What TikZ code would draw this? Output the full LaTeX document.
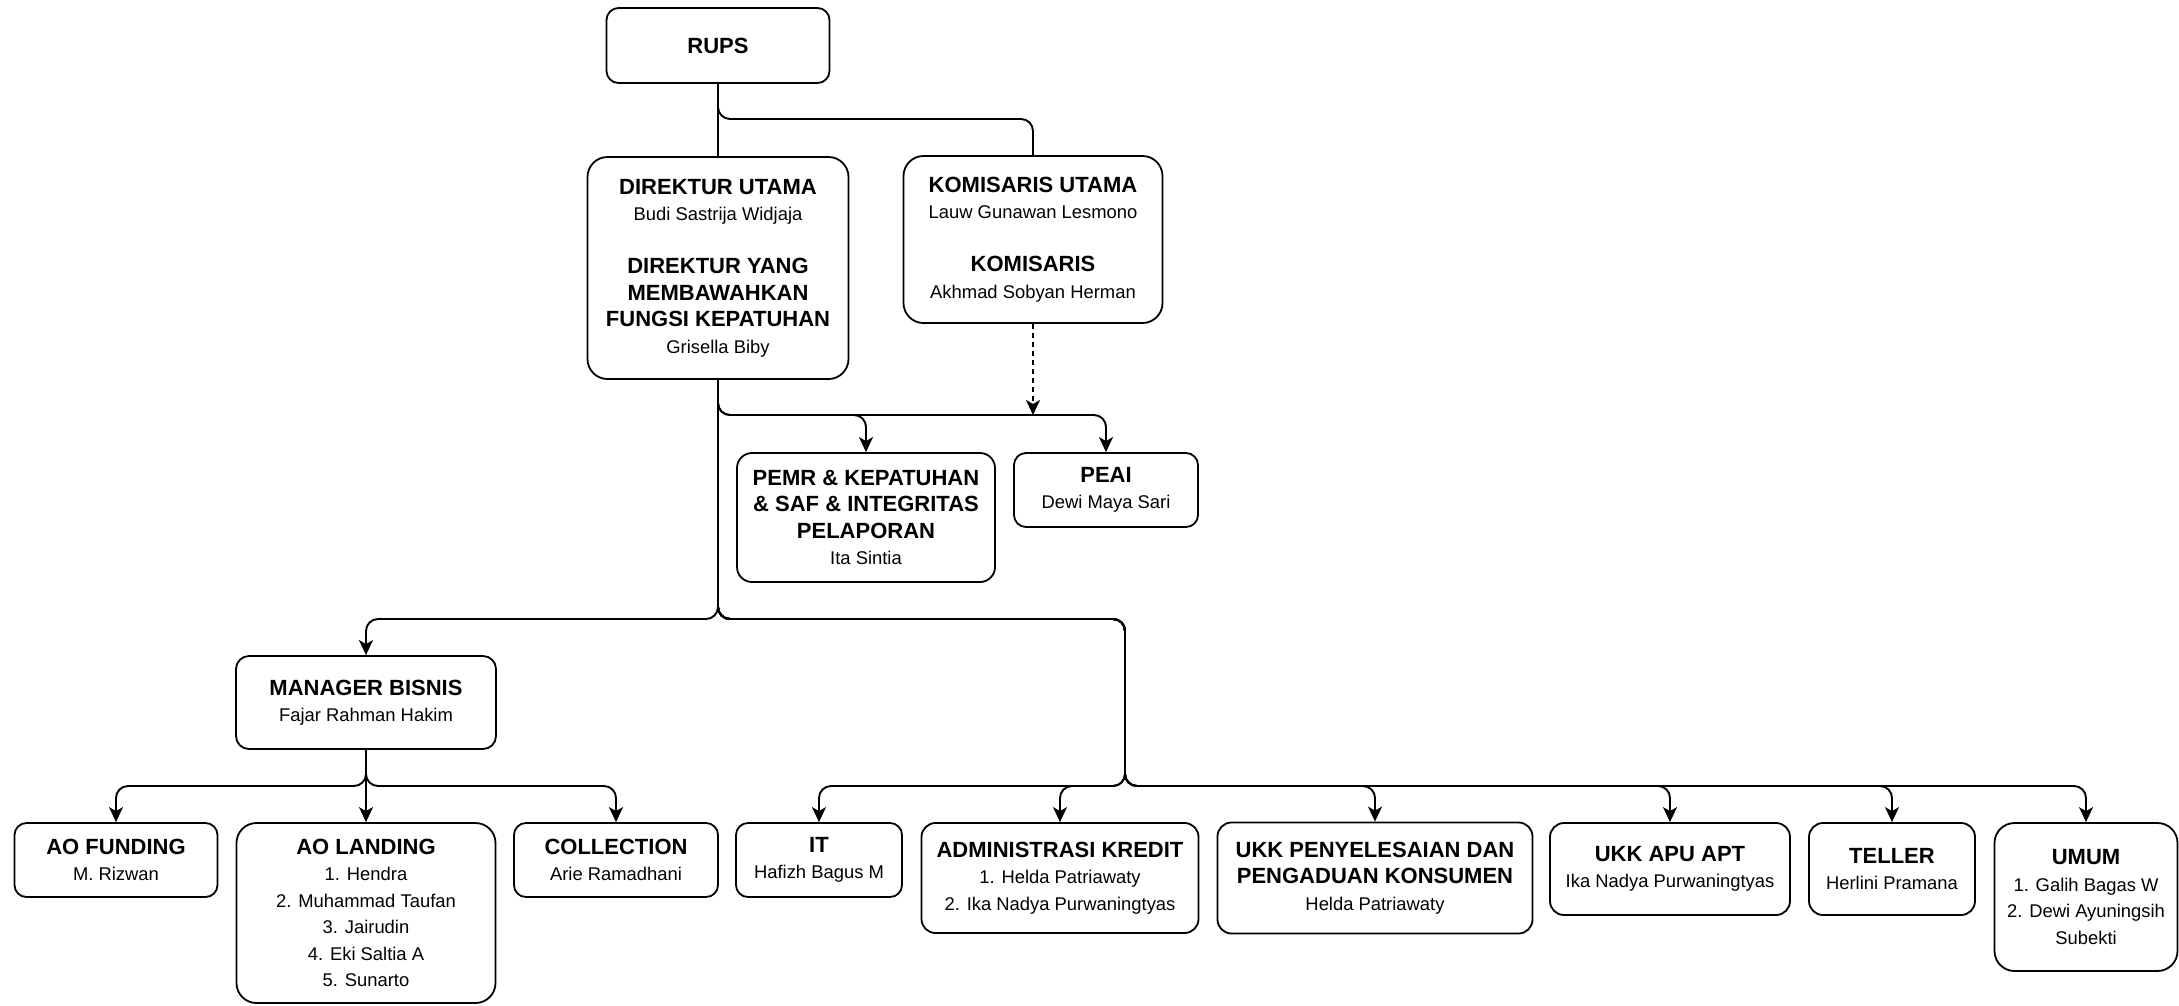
\documentclass[tikz,border=0pt]{standalone}
\usepackage{fontspec}
\setmainfont{Liberation Sans}
\usetikzlibrary{arrows.meta}
\newcommand\nm[1]{{\fontsize{18.4}{26.5}\selectfont\mdseries #1}}
\tikzset{
  box/.style={draw, line width=1.8pt, rounded corners=12pt, align=center, inner sep=0pt,
              font=\fontsize{22}{26.5}\selectfont\bfseries},
  conn/.style={line width=1.9pt, rounded corners=12pt},
  arr/.style={conn, -{Stealth[length=15pt,width=14pt,inset=4pt]}},
  dsh/.style={arr, dash pattern=on 5pt off 4pt},
}
\begin{document}
\begin{tikzpicture}[x=1pt,y=-1pt]
\useasboundingbox (0,0) rectangle (2179,1005);
% top level
\node[box, minimum width=223pt, minimum height=75pt] (rups) at (718,45.5) {RUPS};
\node[box, rounded corners=20pt, minimum width=261pt, minimum height=222pt] (dir) at (718,268)
  {DIREKTUR UTAMA\\ \nm{Budi Sastrija Widjaja}\\[26.5pt] DIREKTUR YANG\\ MEMBAWAHKAN\\ FUNGSI KEPATUHAN\\ \nm{Grisella Biby}};
\node[box, rounded corners=20pt, minimum width=259pt, minimum height=167pt] (kom) at (1033,239.5)
  {KOMISARIS UTAMA\\ \nm{Lauw Gunawan Lesmono}\\[26.5pt] KOMISARIS\\ \nm{Akhmad Sobyan Herman}};
\node[box, rounded corners=15pt, minimum width=258pt, minimum height=129pt] (pemr) at (866,517.5)
  {PEMR \& KEPATUHAN\\ \& SAF \& INTEGRITAS\\ PELAPORAN\\ \nm{Ita Sintia}};
\node[box, minimum width=184pt, minimum height=74pt] (peai) at (1106,490)
  {PEAI\\ \nm{Dewi Maya Sari}};
% manager bisnis
\node[box, rounded corners=13pt, minimum width=260pt, minimum height=93pt] (mb) at (366,702.5)
  {MANAGER BISNIS\\ \nm{Fajar Rahman Hakim}};
\node[box, minimum width=203pt, minimum height=74pt] (aof) at (116,860)
  {AO FUNDING\\ \nm{M. Rizwan}};
\node[box, rounded corners=20pt, minimum width=259pt, minimum height=180pt] (aol) at (366,913)
  {AO LANDING\\ \nm{1. Hendra}\\ \nm{2. Muhammad Taufan}\\ \nm{3. Jairudin}\\ \nm{4. Eki Saltia A}\\ \nm{5. Sunarto}};
\node[box, minimum width=204pt, minimum height=74pt] (col) at (616,860)
  {COLLECTION\\ \nm{Arie Ramadhani}};
% right group
\node[box, minimum width=166pt, minimum height=74pt] (it) at (819,860)
  {IT\\ \nm{Hafizh Bagus M}};
\node[box, rounded corners=14pt, minimum width=277pt, minimum height=110pt] (adm) at (1060,878)
  {ADMINISTRASI KREDIT\\ \nm{1. Helda Patriawaty}\\ \nm{2. Ika Nadya Purwaningtyas}};
\node[box, rounded corners=14pt, minimum width=315pt, minimum height=111pt] (ukp) at (1375,878)
  {UKK PENYELESAIAN DAN\\ PENGADUAN KONSUMEN\\ \nm{Helda Patriawaty}};
\node[box, rounded corners=14pt, minimum width=240pt, minimum height=92pt] (apu) at (1670,869)
  {UKK APU APT\\ \nm{Ika Nadya Purwaningtyas}};
\node[box, rounded corners=14pt, minimum width=166pt, minimum height=92pt] (tel) at (1892,869)
  {TELLER\\ \nm{Herlini Pramana}};
\node[box, rounded corners=20pt, minimum width=183pt, minimum height=148pt] (umum) at (2086,897)
  {UMUM\\ \nm{1. Galih Bagas W}\\ \nm{2. Dewi Ayuningsih}\\ \nm{Subekti}};
% connectors
\draw[conn] (rups.south) -- (dir.north);
\draw[conn] (rups.south) -- (718,119) -- (1033,119) -- (kom.north);
\coordinate (kj) at (1033,415);
\draw[dsh] (kom.south) -- (kj);
\draw[arr] (dir.south) -- (718,415) -- (866,415) -- (pemr.north);
\draw[arr] (dir.south) -- (718,415) -- (1106,415) -- (peai.north);
\draw[arr] (dir.south) -- (718,619) -- (366,619) -- (mb.north);
\foreach \n/\x in {it/819, adm/1060, ukp/1375, apu/1670, tel/1892, umum/2086}{
  \draw[arr] (dir.south) -- (718,619) -- (1125,619) -- (1125,786) -- (\x,786) -- (\n.north);
}
\draw[arr] (mb.south) -- (366,786) -- (116,786) -- (aof.north);
\draw[arr] (mb.south) -- (aol.north);
\draw[arr] (mb.south) -- (366,786) -- (616,786) -- (col.north);
\end{tikzpicture}
\end{document}
